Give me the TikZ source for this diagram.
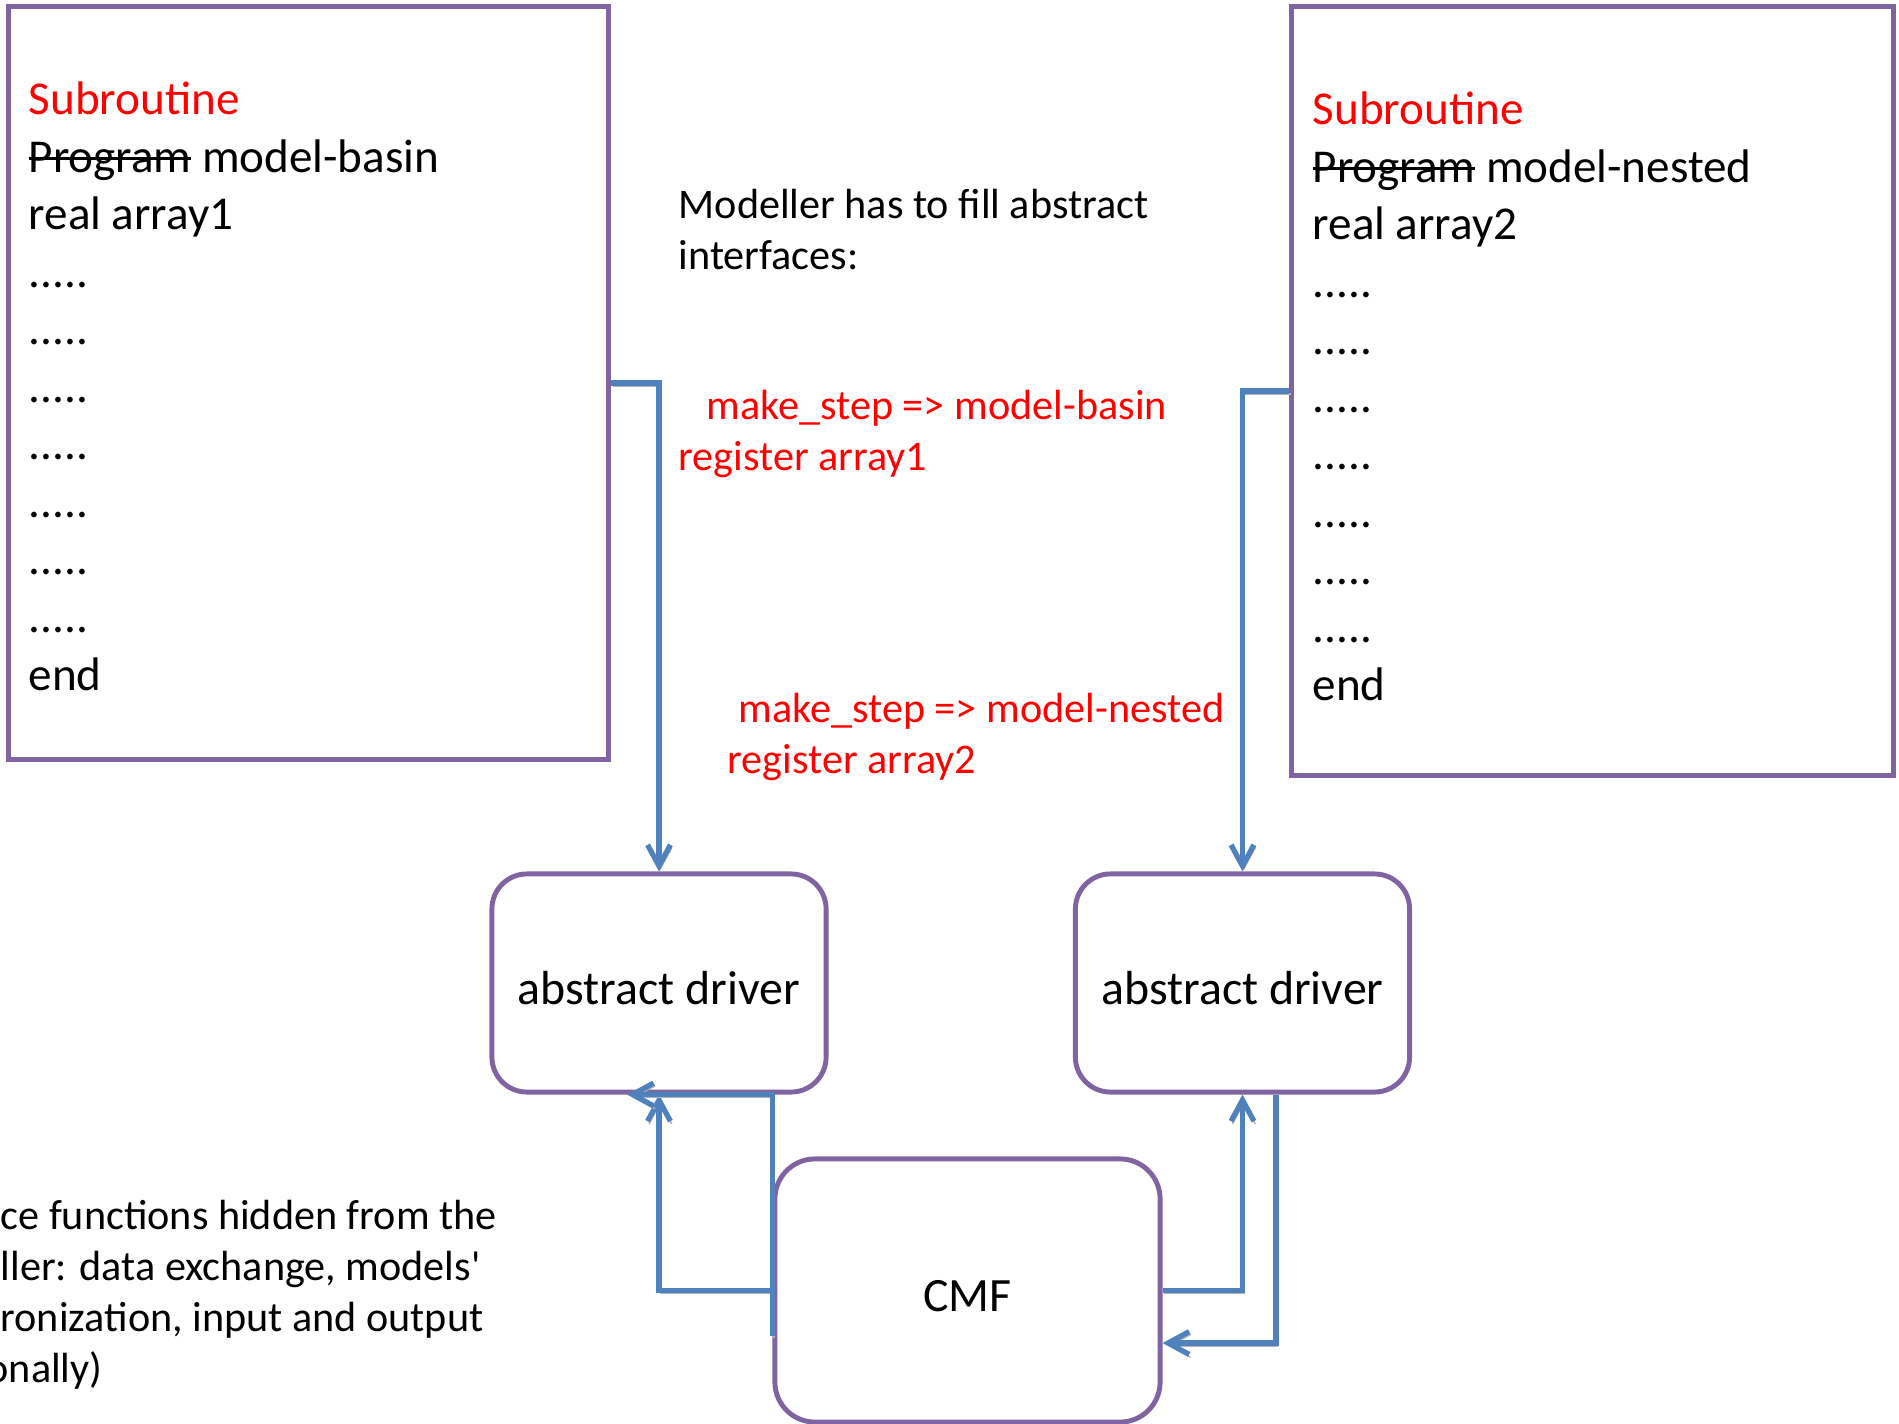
\documentclass[tikz,border=0pt]{standalone}
\usepackage{fontspec}
\setmainfont{Carlito}
\usetikzlibrary{arrows.meta}

\definecolor{boxpurple}{RGB}{128,100,162}
\definecolor{linkblue}{RGB}{79,129,189}
\newsavebox\strikebox
\newcommand{\strikeword}[1]{\sbox\strikebox{#1}\rlap{\usebox\strikebox}\rule[0.25em]{\wd\strikebox}{0.07em}}

\begin{document}
\begin{tikzpicture}[x=0.01cm, y=-0.01cm,
    codebox/.style={draw=boxpurple, line width=1.4pt, minimum width=6.0cm, minimum height=7.52cm, inner sep=0pt},
    drvbox/.style={draw=boxpurple, line width=1.4pt, rounded corners=0.35cm, minimum width=3.34cm, minimum height=2.18cm, inner sep=0pt, text height=12.3pt, font=\fontsize{13.6}{16}\selectfont},
    link/.style={linkblue, line width=1.5pt, preaction={draw=gray!60, transform canvas={shift={(0.4pt,-0.8pt)}}}},
    arrowend/.style={-{Straight Barb[length=6pt,width=6.5pt]}},
    codetext/.style={anchor=base west, align=left, inner sep=0pt, font=\fontsize{13.4}{16.36}\selectfont},
    notetext/.style={anchor=base west, align=left, inner sep=0pt, font=\fontsize{12}{14.5}\selectfont}]
    \useasboundingbox (0,0) rectangle (1899,1424);
    % the two model programs
    \node[codebox] (basin) at (308.75, 383) {};
    \node[codebox, minimum width=6.01cm, minimum height=7.68cm] (nested) at (1592.5, 391) {};
    \node[codetext] (basintext) at (28, 690) {\textcolor{red}{Subroutine}\\ \strikeword{Program} model-basin\\ real array1\\ .....\\ .....\\ .....\\ .....\\ .....\\ .....\\ .....\\ end};
    \node[codetext] (nestedtext) at (1312, 700) {\textcolor{red}{Subroutine}\\ \strikeword{Program} model-nested\\ real array2\\ .....\\ .....\\ .....\\ .....\\ .....\\ .....\\ .....\\ end};
    % drivers and coupler
    \node[drvbox] (drvA) at (659, 983) {abstract driver};
    \node[drvbox] (drvB) at (1242.5, 983) {abstract driver};
    \node[drvbox, minimum width=3.85cm, minimum height=2.63cm, rounded corners=0.4cm] (cmf) at (967.5, 1290.5) {CMF};
    % notes
    \node[notetext] (hint) at (678, 269) {Modeller has to fill abstract\\ interfaces:};
    \node[notetext, red] (regA) at (678, 470) {\hspace*{0.28cm}make\_step => model-basin\\ register array1};
    \node[notetext, red] (regB) at (727, 773) {\hspace*{0.11cm}make\_step => model-nested\\ register array2};
    \node[notetext] (svc) at (0, 1382) {ce functions hidden from the\\ ller: data exchange, models\textquotesingle\\ ronization, input and output\\ \hspace*{-0.14cm}onally)};
    % connectors
    \draw[link, arrowend] (basin.east) -| (drvA.north);
    \draw[link, arrowend] (nested.west) -| (drvB.north);
    \draw[link, arrowend] (cmf.west) -| (drvA.south);
    \draw[link, arrowend] ([yshift=-0.45cm]cmf.west) |- ([xshift=-0.32cm]drvA.south);
    \draw[link, arrowend] (cmf.east) -| (drvB.south);
    \draw[link, arrowend] ([xshift=0.335cm]drvB.south) |- ([yshift=-0.525cm]cmf.east);
\end{tikzpicture}
\end{document}
